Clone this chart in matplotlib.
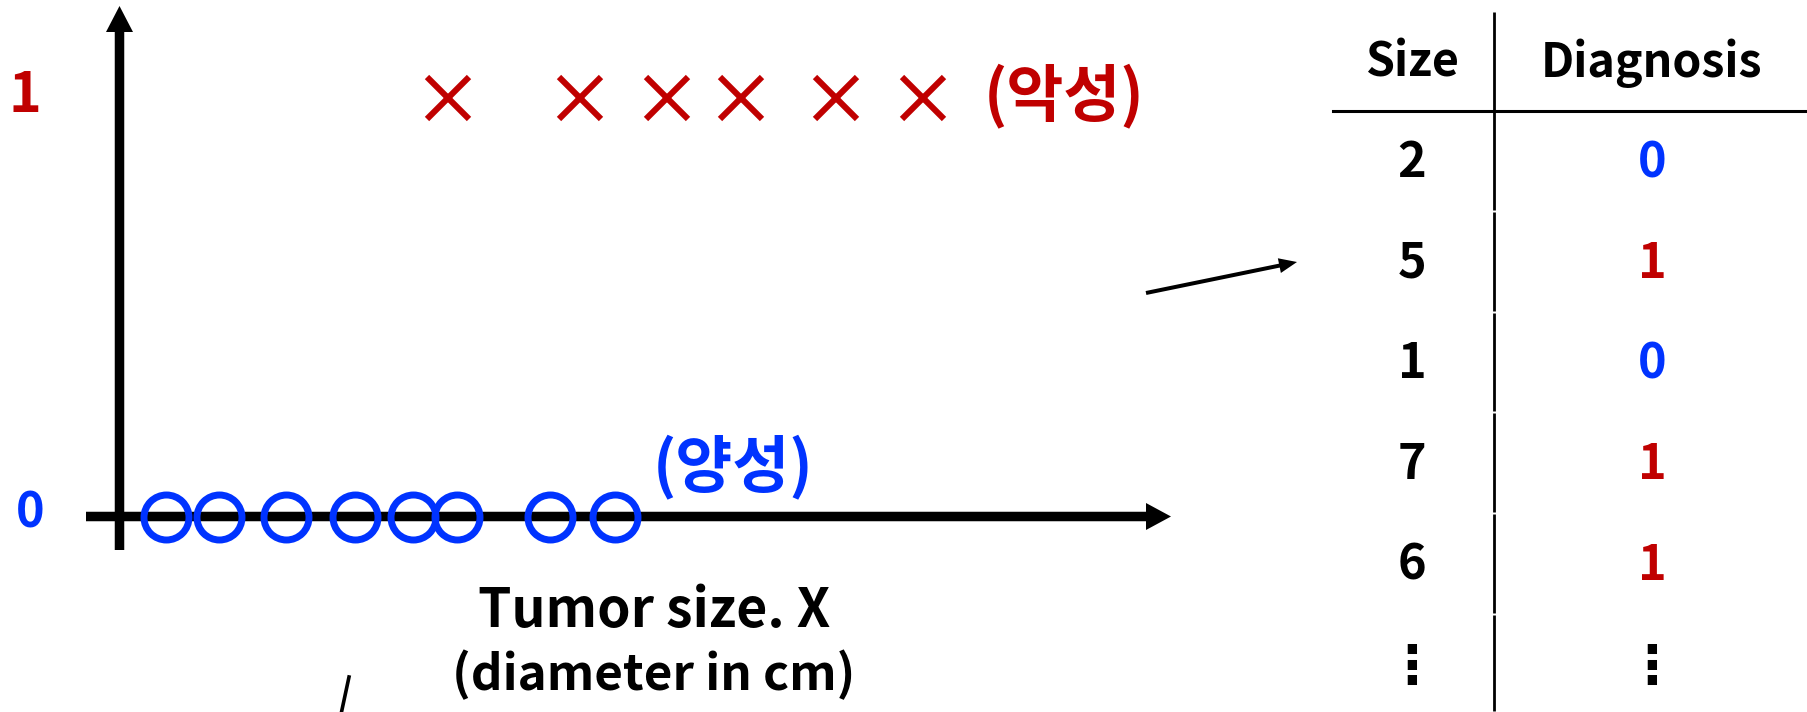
import matplotlib
matplotlib.use("Agg")
import matplotlib.pyplot as plt
from matplotlib.patches import FancyArrow
from matplotlib.transforms import Affine2D

# ---- data ------------------------------------------------------------------
BENIGN_SIZE = [0.47, 1.00, 1.67, 2.36, 2.94, 3.38, 4.31, 4.96]      # (양성)
MALIGNANT_SIZE = [3.29, 4.61, 5.48, 6.22, 7.17, 8.04]               # (악성)
Y_LABELS = ["0", "1"]

TABLE_HEAD = ["Size", "Diagnosis"]
TABLE_SIZE = [2, 5, 1, 7, 6]
TABLE_DIAG = [0, 1, 0, 1, 1]

RED = "#c00000"
BLUE = "#0033ff"
W, H = 1807, 712

plt.rcParams["font.family"] = ["Noto Sans CJK KR", "DejaVu Sans"]
plt.rcParams["font.weight"] = "bold"

fig = plt.figure(figsize=(W / 100, H / 100), dpi=100)
ax = fig.add_axes([0, 0, 1, 1])
ax.axis("off")
# 1 cm = 100 px, origin at the y-axis (px 119.3); diag 0 -> px 516.5, 1 -> px 98.5
ax.set_xlim(-119.3 / 100, (W - 119.3) / 100)
ax.set_ylim(-(H - 516.5) / 418, 1 + 98.5 / 418)

# pixel coordinates, origin top-left
PX = Affine2D().scale(1 / W, -1 / H).translate(0, 1) + fig.transFigure


def arrow(x0, y0, x1, y1, w, hw, hl, zorder=2):
    ax.add_patch(FancyArrow(x0, y0, x1 - x0, y1 - y0, width=w, head_width=hw,
                            head_length=hl, length_includes_head=True,
                            transform=PX, color="black", lw=0, zorder=zorder))


# axes
arrow(119.5, 550, 119.5, 6, 9.5, 27, 26)
arrow(86, 516.5, 1171, 516.5, 9.5, 27, 25)

# points
ax.plot(BENIGN_SIZE, [0] * len(BENIGN_SIZE), "o", ms=32.4, mfc="none",
        mec=BLUE, mew=5.0, zorder=3)
ax.plot(MALIGNANT_SIZE, [1] * len(MALIGNANT_SIZE), "x", ms=30.0,
        mec=RED, mew=4.4, zorder=3)

# y labels
ax.text(25, 96.5, Y_LABELS[1], transform=PX, color=RED, fontsize=40,
        ha="center", va="center")
ax.text(30, 513, Y_LABELS[0], transform=PX, color=BLUE, fontsize=35,
        ha="center", va="center")

ax.text(1064, 96, "(악성)", transform=PX, color=RED, fontsize=44.6,
        ha="center", va="center")
ax.text(733.5, 466.5, "(양성)", transform=PX, color=BLUE, fontsize=44.6,
        ha="center", va="center")

ax.text(654.5, 627, "Tumor size. X", transform=PX, fontsize=38.5,
        ha="center", va="baseline")
ax.text(653.5, 690, "(diameter in cm)", transform=PX, fontsize=35.5,
        ha="center", va="baseline")
ax.plot([341.5, 349], [712, 677], color="black", lw=2.6, transform=PX)

# arrow to the table
arrow(1146, 293, 1297, 262, 4, 15, 18)

# table
COL_X = [1412, 1652]
for cx, head in zip(COL_X, TABLE_HEAD):
    ax.text(cx, 76.7, head, transform=PX, fontsize=33.5, ha="center",
            va="baseline")
ax.plot([1333, W], [110.7, 110.7], color="black", lw=2.2, transform=PX)

ROW_STEP = 100.7
for i, (s, d) in enumerate(zip(TABLE_SIZE, TABLE_DIAG)):
    yb = 177 + i * ROW_STEP
    ax.text(COL_X[0], yb, str(s), transform=PX, fontsize=35, ha="center",
            va="baseline")
    ax.text(COL_X[1], yb, str(d), transform=PX, fontsize=35, ha="center",
            va="baseline", color=RED if d == 1 else BLUE)
for cx in COL_X:
    ax.text(cx, 667.5, "⋮", transform=PX, fontsize=38, ha="center",
            va="center")

# column divider, broken slightly between rows
edges = [11] + [211 + i * ROW_STEP for i in range(5)] + [H]
for a, b in zip(edges[:-1], edges[1:]):
    ax.plot([1494, 1494], [a + 1, b - 1], color="black", lw=2.0,
            solid_capstyle="butt", transform=PX)

fig.savefig("out.png", dpi=100)
